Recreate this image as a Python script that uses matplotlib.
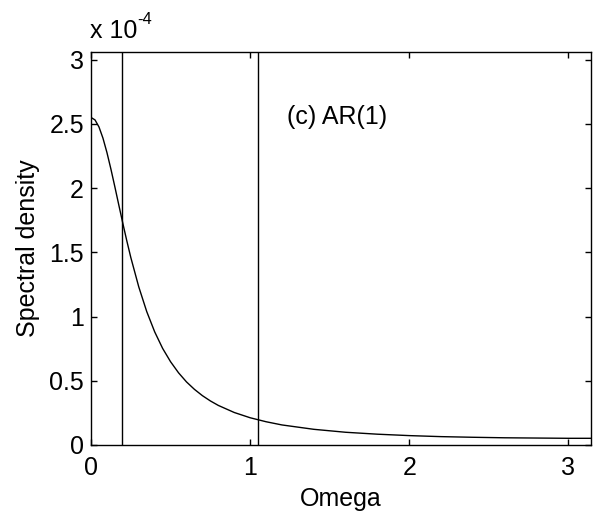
import numpy as np
import matplotlib.pyplot as plt
from matplotlib.ticker import FuncFormatter

plt.rcParams['font.family'] = ['Liberation Sans', 'DejaVu Sans']

# spectral density of the AR(1) process, sampled on [0, pi]  (units of 1e-4)
omega = [0.0, 0.025, 0.05, 0.075, 0.1, 0.125, 0.15, 0.175, 0.2, 0.225, 0.25,
         0.3, 0.35, 0.4, 0.45, 0.5, 0.55, 0.6, 0.65, 0.7, 0.75, 0.8, 0.9, 1.0,
         1.1, 1.2, 1.4, 1.6, 1.8, 2.0, 2.2, 2.4, 2.6, 2.8, 3.0, np.pi]
density = [2.55, 2.531, 2.476, 2.389, 2.277, 2.148, 2.009, 1.866, 1.725, 1.589,
           1.460, 1.231, 1.039, 0.881, 0.752, 0.648, 0.562, 0.491, 0.433, 0.384,
           0.343, 0.308, 0.253, 0.212, 0.181, 0.156, 0.122, 0.099, 0.084, 0.073,
           0.065, 0.060, 0.056, 0.054, 0.052, 0.052]
density = [d * 1e-4 for d in density]

# business cycle band: periods of 32 and 6 quarters
band = [2 * np.pi / 32, 2 * np.pi / 6]

fs = 18

fig = plt.figure(figsize=(5.93, 5.24), dpi=100)
ax = fig.add_axes([0.1535, 0.1508, 0.843, 0.750])

ax.plot(omega, density, color='black', linewidth=1.0)
for b in band:
    ax.axvline(b, color='black', linewidth=1.0)

ax.set_xlim(0, np.pi)
ax.set_ylim(0, 1.2 * max(density))
ax.set_xticks([0, 1, 2, 3])
ax.set_yticks(np.arange(0, 3.01, 0.5) * 1e-4)
ax.yaxis.set_major_formatter(FuncFormatter(lambda v, p: f"{v / 1e-4:g}"))
ax.tick_params(direction='in', length=4, width=1, top=True, right=True,
               labelsize=fs, pad=5)
ax.tick_params(axis='x', pad=8)
for s in ax.spines.values():
    s.set_linewidth(1.0)

ax.set_xlabel('Omega', fontsize=fs, labelpad=5)
ax.set_ylabel('Spectral density', fontsize=fs, labelpad=7)
ax.text(1.23, 2.55e-4, '(c) AR(1)', fontsize=fs, va='center', ha='left')

# exponent label above the y axis
fig.text(0.152, 0.928, 'x 10', fontsize=fs, ha='left', va='baseline')
fig.text(0.232, 0.955, '-4', fontsize=12, ha='left', va='baseline')

fig.savefig('out.png', dpi=100)
